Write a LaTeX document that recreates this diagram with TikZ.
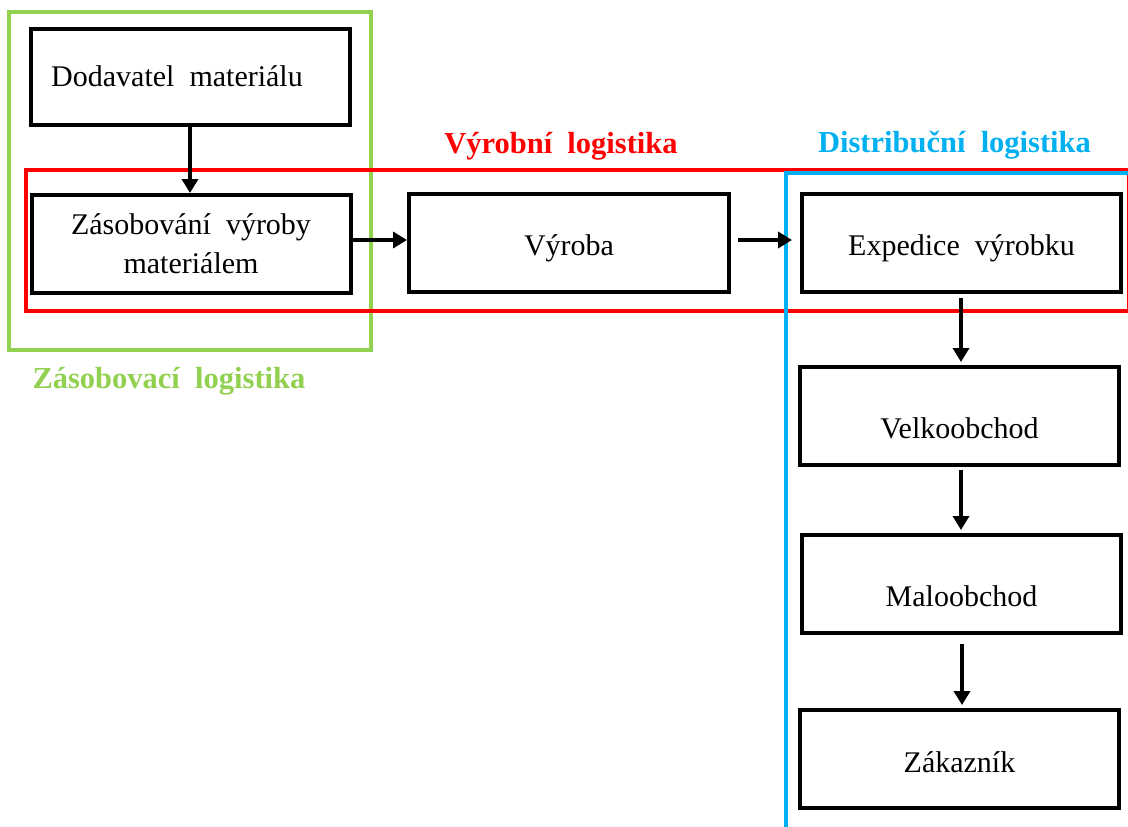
\documentclass[tikz,border=0pt]{standalone}
\usepackage{fontspec}
\setmainfont{Liberation Serif}[WordSpace=2]
\usetikzlibrary{arrows.meta}
\definecolor{zgreen}{HTML}{92D050}
\definecolor{vred}{HTML}{FF0000}
\definecolor{dblue}{HTML}{00B0F0}
\begin{document}
\begin{tikzpicture}[x=1pt,y=-1pt,
  stepbox/.style={draw=black, line width=4pt, fill=white, inner sep=0pt,
    minimum width=319pt, minimum height=98pt, text depth=0pt,
    font=\fontsize{30}{39}\selectfont, align=center},
  arr/.style={line width=3.5pt, -{Triangle[length=14pt,width=16pt]}},
  frame/.style={line width=4pt},
  grouplabel/.style={font=\fontsize{30.5}{36}\selectfont\bfseries, anchor=base}
]
\useasboundingbox (0,0) rectangle (1128,827);
\clip (0,0) rectangle (1128,827);

% group frames
\draw[frame, draw=zgreen] (9,12) rectangle (371,350);
\draw[frame, draw=vred] (26,170) rectangle (1128.5,311);
\draw[frame, draw=dblue] (786,173) rectangle (1145,845);

% group titles
\node[grouplabel, text=vred] (tvyr) at (561,153) {Výrobní logistika};
\node[grouplabel, text=dblue] (tdis) at (954.5,152) {Distribuční logistika};
\node[grouplabel, text=zgreen, anchor=base west] (tzas) at (29,388) {Zásobovací logistika};

% process boxes
\node[stepbox, minimum height=96pt, text height=18pt] (dod) at (190,77) {Dodavatel materiálu\hspace*{26pt}};
\node[stepbox] (zas) at (191,244) {Zásobování výroby\\materiálem};
\node[stepbox, minimum width=320pt, text height=24pt] (vyr) at (569,243) {Výroba};
\node[stepbox, text height=24pt] (exp) at (961.5,243) {Expedice výrobku};
\node[stepbox, text height=44pt] (vel) at (959.5,416) {Velkoobchod};
\node[stepbox, text height=44pt] (mal) at (961.5,584) {Maloobchod};
\node[stepbox, text height=26pt] (zak) at (959.5,759) {Zákazník};

% flow
\draw[arr] (dod.south) -- (dod.south |- zas.north);
\draw[arr] (zas.east |- 0,240) -- (vyr.west |- 0,240);
\draw[arr, shorten <=7pt, shorten >=8pt] (vyr.east |- 0,240) -- (exp.west |- 0,240);
\draw[arr, shorten <=4pt, shorten >=3pt] (exp.south -| 961,0) -- (vel.north -| 961,0);
\draw[arr, shorten <=3pt, shorten >=3pt] (vel.south -| 961,0) -- (mal.north -| 961,0);
\draw[arr, shorten <=9pt, shorten >=3pt] (mal.south -| 962,0) -- (zak.north -| 962,0);
\end{tikzpicture}
\end{document}
